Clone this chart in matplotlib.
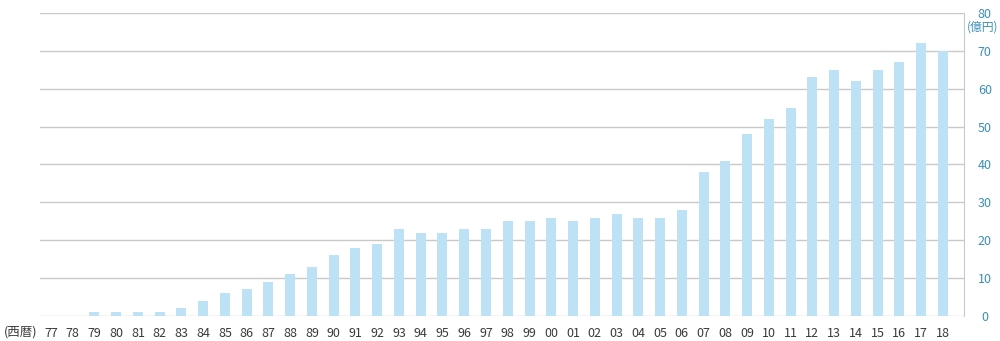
import matplotlib
matplotlib.use("Agg")
import matplotlib.pyplot as plt

plt.rcParams['font.family'] = ['Noto Sans CJK JP', 'DejaVu Sans']

years = ["77", "78", "79", "80", "81", "82", "83", "84", "85", "86", "87", "88", "89", "90",
         "91", "92", "93", "94", "95", "96", "97", "98", "99", "00", "01", "02", "03", "04",
         "05", "06", "07", "08", "09", "10", "11", "12", "13", "14", "15", "16", "17", "18"]
values = [0, 0, 1, 1, 1, 1, 2, 4, 6, 7, 9, 11, 13, 16,
          18, 19, 23, 22, 22, 23, 23, 25, 25, 26, 25, 26, 27, 26,
          26, 28, 38, 41, 48, 52, 55, 63, 65, 62, 65, 67, 72, 70]
yticks = [0, 10, 20, 30, 40, 50, 60, 70, 80]

fig = plt.figure(figsize=(10, 3.41), dpi=100)
ax = fig.add_axes([0.04, 0.0733, 0.924, 0.8886])

x = list(range(len(years)))
ax.bar(x, values, width=0.46, color='#bde2f6', zorder=2)

ax.set_ylim(0, 80)
ax.set_xlim(-0.5, 41.97)
ax.set_yticks(yticks)
ax.yaxis.grid(True, color='#c9c9c9', linewidth=1, zorder=0)
ax.set_axisbelow(True)

ax.yaxis.tick_right()
ax.set_yticklabels([str(v) for v in yticks])
for lab in ax.get_yticklabels():
    lab.set_horizontalalignment('center')
ax.tick_params(axis='y', length=0, pad=15, labelsize=9, labelcolor='#3b8fb8')

ax.set_xticks(x)
ax.set_xticklabels(years)
ax.tick_params(axis='x', length=0, pad=8, labelsize=9, labelcolor='#3a3a3a')

for s in ['left', 'top', 'bottom']:
    ax.spines[s].set_visible(False)
ax.spines['right'].set_color('#c9c9c9')

fig.text(0.004, 0.0264, '(西暦)', fontsize=9, color='#3a3a3a', ha='left', va='center')
fig.text(0.9985, 0.921, '(億円)', fontsize=8.5, color='#3b8fb8', ha='right', va='center')

fig.savefig('out.png', dpi=100)
